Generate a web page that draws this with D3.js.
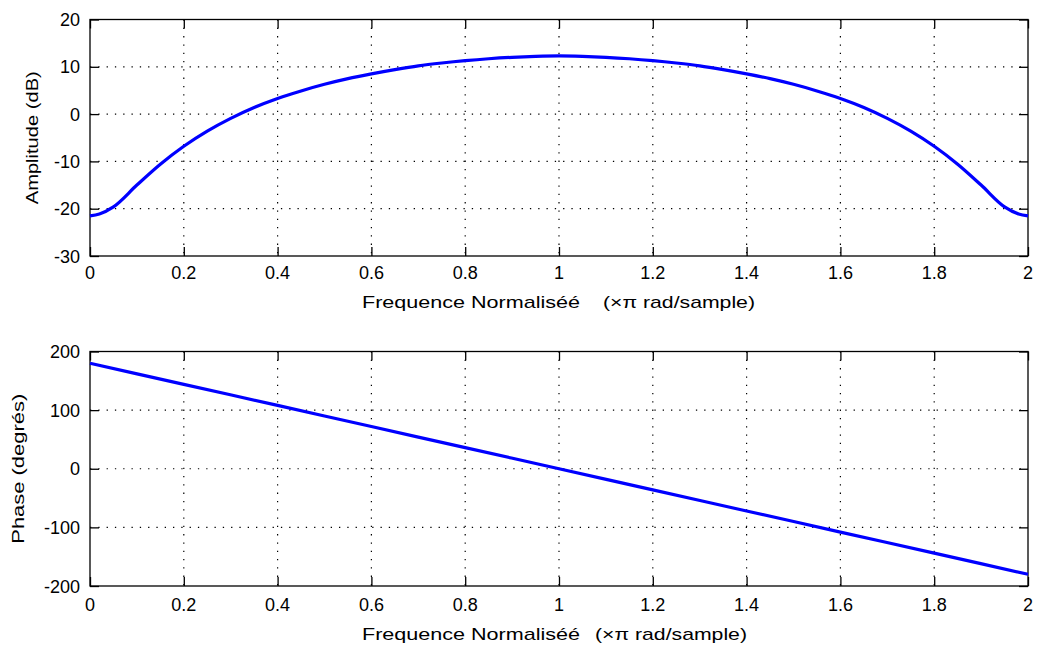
<!DOCTYPE html>
<html>
<head>
<meta charset="utf-8">
<script src="https://cdn.jsdelivr.net/npm/d3@7"></script>
<style>
body { margin: 0; background: #fff; }
text { font-family: "Liberation Sans", Arial, sans-serif; fill: #000; }
</style>
</head>
<body>
<script>
// frequency axis (x pi rad/sample)
var freqMag = [0, 0.02, 0.05, 0.1, 0.15, 0.2, 0.25, 0.3, 0.35, 0.4, 0.45, 0.5, 0.55, 0.6, 0.65, 0.7, 0.75, 0.8, 0.85, 0.9, 0.95, 1.0,
               1.05, 1.1, 1.15, 1.2, 1.25, 1.3, 1.35, 1.4, 1.45, 1.5, 1.55, 1.6, 1.65, 1.7, 1.75, 1.8, 1.85, 1.9, 1.95, 1.98, 2.0];
// amplitude in dB
var amplitude = [-21.5, -21.1, -19.6, -15.0, -10.6, -6.8, -3.6, -0.9, 1.4, 3.3, 4.9, 6.3, 7.5, 8.5, 9.4, 10.2, 10.8, 11.3, 11.7, 12.0, 12.2, 12.3,
                 12.2, 12.0, 11.7, 11.3, 10.8, 10.2, 9.4, 8.5, 7.5, 6.3, 4.9, 3.3, 1.4, -0.9, -3.6, -6.8, -10.6, -15.0, -19.6, -21.1, -21.5];

var freqPhase = [0, 0.2, 0.4, 0.6, 0.8, 1.0, 1.2, 1.4, 1.6, 1.8, 2.0];
var phase = [180, 144, 108, 72, 36, 0, -36, -72, -108, -144, -180];

var xTicks = [0, 0.2, 0.4, 0.6, 0.8, 1, 1.2, 1.4, 1.6, 1.8, 2];
var ampTicks = [-30, -20, -10, 0, 10, 20];
var phaseTicks = [-200, -100, 0, 100, 200];

var width = 1038;
var height = 647;
var left = 90, right = 1028;

var svg = d3.select("body")
.append("svg")
.attr("width", width)
.attr("height", height);

var xscale = d3.scaleLinear()
.domain([0, 2])
.range([left, right]);

function panel(top, bottom, ydomain, yticks, xs, ys, ylabel, ylabelX, ylabelLen, labelGap, labelOff) {
    var yscale = d3.scaleLinear().domain(ydomain).range([bottom, top]);

    var g = svg.append("g");

    // dotted grid
    g.selectAll(".vgrid")
    .data(xTicks.slice(1, -1))
    .enter()
    .append("line")
    .attr("x1", d => xscale(d)).attr("x2", d => xscale(d))
    .attr("y1", top).attr("y2", bottom)
    .attr("stroke", "#000").attr("stroke-width", 1.2)
    .attr("stroke-dasharray", "1.3,7");

    g.selectAll(".hgrid")
    .data(yticks.slice(1, -1))
    .enter()
    .append("line")
    .attr("x1", left).attr("x2", right)
    .attr("y1", d => yscale(d)).attr("y2", d => yscale(d))
    .attr("stroke", "#000").attr("stroke-width", 1.2)
    .attr("stroke-dasharray", "1.3,7");

    // axes, ticks pointing inward on all sides
    var tk = 9;
    g.append("g")
    .attr("transform", "translate(0," + bottom + ")")
    .call(d3.axisTop(xscale).tickValues(xTicks).tickSize(tk).tickFormat(""));
    g.append("g")
    .attr("transform", "translate(0," + top + ")")
    .call(d3.axisBottom(xscale).tickValues(xTicks).tickSize(tk).tickFormat(""));
    g.append("g")
    .attr("transform", "translate(" + left + ",0)")
    .call(d3.axisRight(yscale).tickValues(yticks).tickSize(tk).tickFormat(""));
    g.append("g")
    .attr("transform", "translate(" + right + ",0)")
    .call(d3.axisLeft(yscale).tickValues(yticks).tickSize(tk).tickFormat(""));
    g.selectAll(".domain").remove();
    g.selectAll(".tick line").attr("stroke", "#000").attr("stroke-width", 1.3);

    g.append("rect")
    .attr("x", left).attr("y", top)
    .attr("width", right - left).attr("height", bottom - top)
    .attr("fill", "none").attr("stroke", "#000").attr("stroke-width", 1.3);

    // tick labels
    g.selectAll(".xl")
    .data(xTicks)
    .enter()
    .append("text")
    .attr("x", d => xscale(d))
    .attr("y", bottom + labelOff)
    .attr("text-anchor", "middle")
    .style("font-size", "18px")
    .text(d => d);

    g.selectAll(".yl")
    .data(yticks)
    .enter()
    .append("text")
    .attr("x", left - 10)
    .attr("y", d => yscale(d) + 6.5)
    .attr("text-anchor", "end")
    .style("font-size", "18px")
    .text(d => d);

    // data line
    var line = d3.line()
    .x((d, i) => xscale(xs[i]))
    .y(d => yscale(d))
    .curve(d3.curveMonotoneX);

    g.append("path")
    .datum(ys)
    .attr("d", line)
    .attr("fill", "none")
    .attr("stroke", "#0000ff")
    .attr("stroke-width", 3.2);

    // x axis label
    var cx = xscale(1);
    var ly = bottom + labelOff + 29;
    g.append("text")
    .attr("x", cx - 197).attr("y", ly)
    .attr("textLength", 218).attr("lengthAdjust", "spacingAndGlyphs")
    .style("font-size", "17px")
    .text("Frequence Normaliséé");
    g.append("text")
    .attr("x", cx + labelGap).attr("y", ly)
    .attr("textLength", 152).attr("lengthAdjust", "spacingAndGlyphs")
    .style("font-size", "17px")
    .text("(×π rad/sample)");

    // y axis label
    g.append("text")
    .attr("transform", "translate(" + ylabelX + "," + ((top + bottom) / 2) + ") rotate(-90)")
    .attr("text-anchor", "middle")
    .attr("textLength", ylabelLen).attr("lengthAdjust", "spacingAndGlyphs")
    .style("font-size", "17px")
    .text(ylabel);
}

panel(19.5, 256, [-30, 20], ampTicks, freqMag, amplitude, "Amplitude (dB)", 38, 133, 44, 23);
panel(351.5, 586, [-200, 200], phaseTicks, freqPhase, phase, "Phase (degrés)", 24, 150, 36, 25);
</script>
</body>
</html>
